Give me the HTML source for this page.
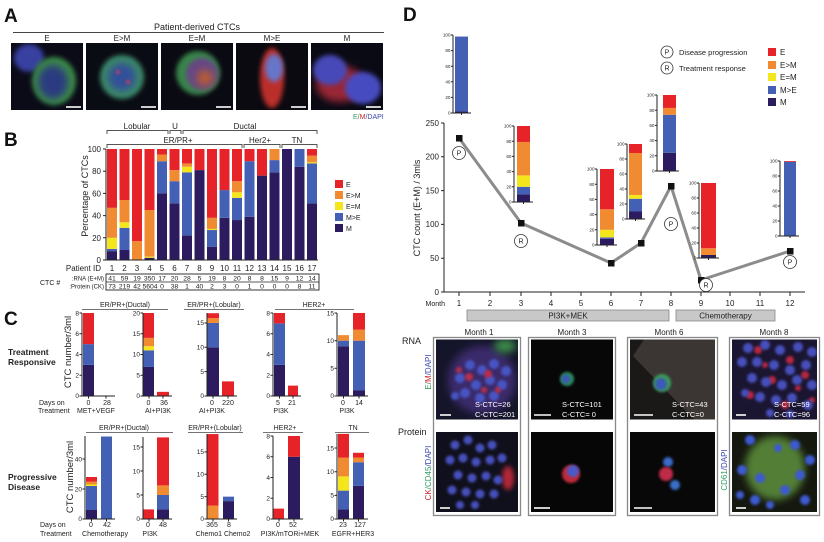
<!DOCTYPE html>
<html><head><meta charset="utf-8"><style>
html,body{margin:0;padding:0;background:#fff;}
svg{display:block;}
text{font-family:"Liberation Sans",Arial,sans-serif;fill:#222;}
.r{fill:#e52329}.o{fill:#f18b31}.y{fill:#f3e61c}.b{fill:#4460b5}.m{fill:#2c1c5f}
.ax{stroke:#222;stroke-width:1;fill:none}
.br{stroke:#555;stroke-width:1;fill:none}
.t8{font-size:8px}.t7{font-size:7px}.t65{font-size:6.5px}.t45{font-size:4.6px}
.sb{stroke:#fff;stroke-width:1.6}
.wt{fill:#fff;font-size:7.5px}
</style></head><body>
<svg width="824" height="542" viewBox="0 0 824 542" xmlns="http://www.w3.org/2000/svg">
<defs>
<filter id="f1" x="-50%" y="-50%" width="200%" height="200%"><feGaussianBlur stdDeviation="1.3"/></filter>
<filter id="f2" x="-50%" y="-50%" width="200%" height="200%"><feGaussianBlur stdDeviation="2.5"/></filter>
<filter id="f4" x="-50%" y="-50%" width="200%" height="200%"><feGaussianBlur stdDeviation="4"/></filter>
<clipPath id="a1"><rect x="11" y="43" width="72" height="67"/></clipPath>
<clipPath id="a2"><rect x="86" y="43" width="72" height="67"/></clipPath>
<clipPath id="a3"><rect x="161" y="43" width="72" height="67"/></clipPath>
<clipPath id="a4"><rect x="236" y="43" width="72" height="67"/></clipPath>
<clipPath id="a5"><rect x="311" y="43" width="72" height="67"/></clipPath>
<clipPath id="d1"><rect x="436" y="339.5" width="82" height="80"/></clipPath>
<clipPath id="d2"><rect x="531" y="339.5" width="82" height="80"/></clipPath>
<clipPath id="d3"><rect x="630" y="339.5" width="85" height="80"/></clipPath>
<clipPath id="d4"><rect x="732" y="339.5" width="85" height="80"/></clipPath>
<clipPath id="e1"><rect x="436" y="432" width="82" height="80"/></clipPath>
<clipPath id="e2"><rect x="531" y="432" width="82" height="80"/></clipPath>
<clipPath id="e3"><rect x="630" y="432" width="85" height="80"/></clipPath>
<clipPath id="e4"><rect x="732" y="432" width="85" height="80"/></clipPath>
</defs>

<!-- ============ PANEL A ============ -->
<text x="4" y="22" style="font-size:19px;font-weight:bold;fill:#111">A</text>
<text x="197" y="30" text-anchor="middle" style="font-size:9px">Patient-derived CTCs</text>
<line x1="13" y1="32.5" x2="384" y2="32.5" stroke="#444" stroke-width="1"/>
<text x="47" y="41" text-anchor="middle" class="t8">E</text>
<text x="122" y="41" text-anchor="middle" class="t8">E&gt;M</text>
<text x="197" y="41" text-anchor="middle" class="t8">E=M</text>
<text x="272" y="41" text-anchor="middle" class="t8">M&gt;E</text>
<text x="347" y="41" text-anchor="middle" class="t8">M</text>

<g clip-path="url(#a1)">
<rect x="11" y="43" width="72" height="67" fill="#0b0b18"/>
<ellipse cx="29" cy="58" rx="15" ry="14" fill="#3840a0" filter="url(#f2)"/>
<ellipse cx="54" cy="81" rx="22" ry="24" fill="#3a8a44" filter="url(#f2)"/>
<ellipse cx="53" cy="82" rx="15" ry="17" fill="#2a3a80" filter="url(#f4)"/>
</g>
<g clip-path="url(#a2)">
<rect x="86" y="43" width="72" height="67" fill="#0a0c14"/>
<circle cx="122" cy="77" r="22" fill="#3a8866" filter="url(#f2)"/>
<circle cx="122" cy="77" r="14" fill="#33509a" filter="url(#f4)"/>
<circle cx="118" cy="72" r="2" fill="#c04060" filter="url(#f1)"/>
<circle cx="128" cy="82" r="2" fill="#c04060" filter="url(#f1)"/>
</g>
<g clip-path="url(#a3)">
<rect x="161" y="43" width="72" height="67" fill="#0a0a12"/>
<circle cx="198" cy="73" r="22" fill="#38844c" filter="url(#f2)"/>
<circle cx="202" cy="74" r="16" fill="#664684" filter="url(#f2)"/>
<circle cx="205" cy="78" r="8" fill="#b85c30" filter="url(#f4)"/>
</g>
<g clip-path="url(#a4)">
<rect x="236" y="43" width="72" height="67" fill="#0a0a10"/>
<ellipse cx="272" cy="78" rx="12" ry="30" fill="#bc2e2a" filter="url(#f2)"/>
<ellipse cx="274" cy="68" rx="9" ry="14" fill="#6676c8" filter="url(#f2)"/>
</g>
<g clip-path="url(#a5)">
<rect x="311" y="43" width="72" height="67" fill="#0a0a14"/>
<ellipse cx="340" cy="84" rx="24" ry="18" fill="#9a2636" filter="url(#f4)"/>
<ellipse cx="330" cy="70" rx="17" ry="15" fill="#4648b8" filter="url(#f2)"/>
<ellipse cx="363" cy="88" rx="18" ry="16" fill="#464cc0" filter="url(#f2)"/>
</g>
<line x1="66" y1="107" x2="81" y2="107" class="sb"/>
<line x1="141" y1="107" x2="156" y2="107" class="sb"/>
<line x1="216" y1="107" x2="231" y2="107" class="sb"/>
<line x1="291" y1="107" x2="306" y2="107" class="sb"/>
<line x1="366" y1="107" x2="381" y2="107" class="sb"/>
<text x="353" y="119" class="t7"><tspan style="fill:#2e9e5e">E</tspan><tspan style="fill:#666">/</tspan><tspan style="fill:#d0262a">M</tspan><tspan style="fill:#3b48b0">/DAPI</tspan></text>

<!-- ============ PANEL B ============ -->
<text x="4" y="146" style="font-size:19px;font-weight:bold;fill:#111">B</text>
<text x="137" y="129" text-anchor="middle" class="t8">Lobular</text>
<text x="175" y="129" text-anchor="middle" class="t8">U</text>
<text x="245" y="129" text-anchor="middle" class="t8">Ductal</text>
<path class="br" d="M107,134V130.5H168V134 M170,134V130.5H181V134 M183,134V130.5H317V134"/>
<text x="178" y="143" text-anchor="middle" class="t8">ER/PR+</text>
<text x="260" y="143" text-anchor="middle" class="t8">Her2+</text>
<text x="297" y="143" text-anchor="middle" class="t8">TN</text>
<path class="br" d="M107,148V144.5H242V148 M244,148V144.5H280V148 M282,148V144.5H317V148"/>

<g transform="translate(0,260) scale(1,-1.11)">
<rect class="m" x="107" y="0" width="10" height="8"/><rect class="b" x="107" y="8" width="10" height="2"/><rect class="y" x="107" y="10" width="10" height="10"/><rect class="o" x="107" y="20" width="10" height="27"/><rect class="r" x="107" y="47" width="10" height="53"/>
<rect class="m" x="119.5" y="0" width="10" height="9"/><rect class="b" x="119.5" y="9" width="10" height="20"/><rect class="y" x="119.5" y="29" width="10" height="5"/><rect class="o" x="119.5" y="34" width="10" height="20"/><rect class="r" x="119.5" y="54" width="10" height="46"/>
<rect class="o" x="132" y="0" width="10" height="17"/><rect class="r" x="132" y="17" width="10" height="83"/>
<rect class="m" x="144.5" y="0" width="10" height="2"/><rect class="y" x="144.5" y="2" width="10" height="1"/><rect class="o" x="144.5" y="3" width="10" height="42"/><rect class="r" x="144.5" y="45" width="10" height="55"/>
<rect class="m" x="157" y="0" width="10" height="60"/><rect class="b" x="157" y="60" width="10" height="29"/><rect class="o" x="157" y="89" width="10" height="6"/><rect class="r" x="157" y="95" width="10" height="5"/>
<rect class="m" x="169.5" y="0" width="10" height="51"/><rect class="b" x="169.5" y="51" width="10" height="20"/><rect class="o" x="169.5" y="71" width="10" height="10"/><rect class="r" x="169.5" y="81" width="10" height="19"/>
<rect class="m" x="182" y="0" width="10" height="22"/><rect class="b" x="182" y="22" width="10" height="57"/><rect class="y" x="182" y="79" width="10" height="5"/><rect class="o" x="182" y="84" width="10" height="3"/><rect class="r" x="182" y="87" width="10" height="13"/>
<rect class="m" x="194.5" y="0" width="10" height="81"/><rect class="r" x="194.5" y="81" width="10" height="19"/>
<rect class="m" x="207" y="0" width="10" height="12"/><rect class="b" x="207" y="12" width="10" height="15"/><rect class="y" x="207" y="27" width="10" height="1"/><rect class="o" x="207" y="28" width="10" height="10"/><rect class="r" x="207" y="38" width="10" height="62"/>
<rect class="m" x="219.5" y="0" width="10" height="38"/><rect class="b" x="219.5" y="38" width="10" height="25"/><rect class="r" x="219.5" y="63" width="10" height="37"/>
<rect class="m" x="232" y="0" width="10" height="36"/><rect class="b" x="232" y="36" width="10" height="20"/><rect class="y" x="232" y="56" width="10" height="5"/><rect class="o" x="232" y="61" width="10" height="10"/><rect class="r" x="232" y="71" width="10" height="29"/>
<rect class="m" x="244.5" y="0" width="10" height="39"/><rect class="b" x="244.5" y="39" width="10" height="50"/><rect class="r" x="244.5" y="89" width="10" height="11"/>
<rect class="m" x="257" y="0" width="10" height="76"/><rect class="r" x="257" y="76" width="10" height="24"/>
<rect class="m" x="269.5" y="0" width="10" height="79"/><rect class="b" x="269.5" y="79" width="10" height="11"/><rect class="o" x="269.5" y="90" width="10" height="10"/>
<rect class="m" x="282" y="0" width="10" height="100"/>
<rect class="m" x="294.5" y="0" width="10" height="84"/><rect class="b" x="294.5" y="84" width="10" height="16"/>
<rect class="m" x="307" y="0" width="10" height="51"/><rect class="b" x="307" y="51" width="10" height="36"/><rect class="y" x="307" y="87" width="10" height="1"/><rect class="o" x="307" y="88" width="10" height="6"/><rect class="r" x="307" y="94" width="10" height="6"/>
</g>
<path class="ax" d="M106,149V260H318 M103,260H106 M103,237.8H106 M103,215.6H106 M103,193.4H106 M103,171.2H106 M103,149H106"/>
<g class="t8" text-anchor="end">
<text x="101" y="263">0</text><text x="101" y="240.8">20</text><text x="101" y="218.6">40</text><text x="101" y="196.4">60</text><text x="101" y="174.2">80</text><text x="101" y="152">100</text>
</g>
<text transform="translate(88,196) rotate(-90)" text-anchor="middle" style="font-size:9px">Percentage of CTCs</text>
<!-- legend B -->
<rect class="r" x="335" y="180" width="8" height="8"/><text x="346" y="187" class="t7">E</text>
<rect class="o" x="335" y="191" width="8" height="8"/><text x="346" y="198" class="t7">E&gt;M</text>
<rect class="y" x="335" y="202" width="8" height="8"/><text x="346" y="209" class="t7">E=M</text>
<rect class="b" x="335" y="213" width="8" height="8"/><text x="346" y="220" class="t7">M&gt;E</text>
<rect class="m" x="335" y="224" width="8" height="8"/><text x="346" y="231" class="t7">M</text>
<!-- table -->
<text x="101" y="271" text-anchor="end" class="t8">Patient ID</text>
<g class="t8" text-anchor="middle">
<text x="112" y="271">1</text><text x="124.5" y="271">2</text><text x="137" y="271">3</text><text x="149.5" y="271">4</text><text x="162" y="271">5</text><text x="174.5" y="271">6</text><text x="187" y="271">7</text><text x="199.5" y="271">8</text><text x="212" y="271">9</text><text x="224.5" y="271">10</text><text x="237" y="271">11</text><text x="249.5" y="271">12</text><text x="262" y="271">13</text><text x="274.5" y="271">14</text><text x="287" y="271">15</text><text x="299.5" y="271">16</text><text x="312" y="271">17</text>
</g>
<rect x="106" y="274" width="213" height="16" fill="none" stroke="#222" stroke-width="0.9"/>
<line x1="106" y1="282" x2="319" y2="282" stroke="#222" stroke-width="0.7"/>
<text x="40" y="285" class="t7">CTC #</text>
<text x="104" y="280.5" text-anchor="end" style="font-size:6px">:RNA (E+M)</text>
<text x="104" y="288.5" text-anchor="end" style="font-size:6px">:Protein (CK)</text>
<g text-anchor="middle" style="font-size:6.8px">
<text x="112" y="280.5">41</text><text x="124.5" y="280.5">59</text><text x="137" y="280.5">19</text><text x="149.5" y="280.5">350</text><text x="162" y="280.5">17</text><text x="174.5" y="280.5">20</text><text x="187" y="280.5">28</text><text x="199.5" y="280.5">5</text><text x="212" y="280.5">19</text><text x="224.5" y="280.5">8</text><text x="237" y="280.5">20</text><text x="249.5" y="280.5">8</text><text x="262" y="280.5">8</text><text x="274.5" y="280.5">15</text><text x="287" y="280.5">9</text><text x="299.5" y="280.5">12</text><text x="312" y="280.5">14</text>
<text x="112" y="288.5">73</text><text x="124.5" y="288.5">219</text><text x="137" y="288.5">42</text><text x="150" y="288.5">5604</text><text x="162" y="288.5">0</text><text x="174.5" y="288.5">38</text><text x="187" y="288.5">1</text><text x="199.5" y="288.5">40</text><text x="212" y="288.5">2</text><text x="224.5" y="288.5">3</text><text x="237" y="288.5">0</text><text x="249.5" y="288.5">1</text><text x="262" y="288.5">0</text><text x="274.5" y="288.5">0</text><text x="287" y="288.5">0</text><text x="299.5" y="288.5">8</text><text x="312" y="288.5">11</text>
</g>

<!-- ============ PANEL C ============ -->
<text x="4" y="325" style="font-size:19px;font-weight:bold;fill:#111">C</text>
<text x="125" y="307" text-anchor="middle" class="t7">ER/PR+(Ductal)</text>
<line x1="82" y1="309.5" x2="168" y2="309.5" stroke="#444" stroke-width="0.8"/>
<text x="214" y="307" text-anchor="middle" class="t7">ER/PR+(Lobular)</text>
<line x1="184" y1="309.5" x2="244" y2="309.5" stroke="#444" stroke-width="0.8"/>
<text x="314" y="307" text-anchor="middle" class="t7">HER2+</text>
<line x1="275" y1="309.5" x2="354" y2="309.5" stroke="#444" stroke-width="0.8"/>

<text x="8" y="355" style="font-size:8.5px;font-weight:bold">Treatment</text>
<text x="8" y="365" style="font-size:8.5px;font-weight:bold">Responsive</text>
<text transform="translate(71,352) rotate(-90)" text-anchor="middle" style="font-size:9.5px">CTC number/3ml</text>
<text x="39" y="405" class="t7">Days on</text>
<text x="38" y="413" class="t7">Treatment</text>

<!-- R1 -->
<g transform="translate(0,396) scale(1,-10.375)"><rect class="m" x="83" y="0" width="11" height="3"/><rect class="b" x="83" y="3" width="11" height="2"/><rect class="r" x="83" y="5" width="11" height="3"/></g>
<path class="ax" d="M82,313V396H115 M79.5,396H82 M79.5,375.25H82 M79.5,354.5H82 M79.5,333.75H82 M79.5,313H82 M88.5,396V398.5 M106,396V398.5"/>
<g class="t65" text-anchor="end"><text x="79" y="398">0</text><text x="79" y="377.5">2</text><text x="79" y="356.7">4</text><text x="79" y="336">6</text><text x="79" y="315.3">8</text></g>
<!-- R2 -->
<g transform="translate(0,396) scale(1,-4.15)"><rect class="m" x="143.5" y="0" width="10.5" height="7"/><rect class="b" x="143.5" y="7" width="10.5" height="4"/><rect class="y" x="143.5" y="11" width="10.5" height="1"/><rect class="o" x="143.5" y="12" width="10.5" height="2"/><rect class="r" x="143.5" y="14" width="10.5" height="6"/><rect class="r" x="157" y="0" width="12" height="1"/></g>
<path class="ax" d="M143,313V396H172 M140.5,396H143 M140.5,375.25H143 M140.5,354.5H143 M140.5,333.75H143 M140.5,313H143 M149,396V398.5 M163,396V398.5"/>
<g class="t65" text-anchor="end"><text x="140" y="398">0</text><text x="140" y="377.5">5</text><text x="140" y="356.7">10</text><text x="140" y="336">15</text><text x="140" y="315.3">20</text></g>
<!-- R3 -->
<g transform="translate(0,396) scale(1,-4.87)"><rect class="m" x="207.5" y="0" width="11.5" height="10"/><rect class="b" x="207.5" y="10" width="11.5" height="5"/><rect class="o" x="207.5" y="15" width="11.5" height="1"/><rect class="r" x="207.5" y="16" width="11.5" height="1"/><rect class="r" x="222" y="0" width="12" height="3"/></g>
<path class="ax" d="M207,313V396H237 M204.5,396H207 M204.5,371.65H207 M204.5,347.3H207 M204.5,322.95H207 M213,396V398.5 M228,396V398.5"/>
<g class="t65" text-anchor="end"><text x="204" y="398">0</text><text x="204" y="374">5</text><text x="204" y="349.5">10</text><text x="204" y="325.2">15</text></g>
<!-- R4 -->
<g transform="translate(0,396) scale(1,-10.375)"><rect class="m" x="274" y="0" width="11" height="3"/><rect class="b" x="274" y="3" width="11" height="4"/><rect class="r" x="274" y="7" width="11" height="1"/><rect class="r" x="288" y="0" width="10" height="1"/></g>
<path class="ax" d="M273,313V396H301 M270.5,396H273 M270.5,375.25H273 M270.5,354.5H273 M270.5,333.75H273 M270.5,313H273 M279.5,396V398.5 M293,396V398.5"/>
<g class="t65" text-anchor="end"><text x="270" y="398">0</text><text x="270" y="377.5">2</text><text x="270" y="356.7">4</text><text x="270" y="336">6</text><text x="270" y="315.3">8</text></g>
<!-- R5 -->
<g transform="translate(0,396) scale(1,-5.533)"><rect class="m" x="338" y="0" width="11" height="9"/><rect class="b" x="338" y="9" width="11" height="1"/><rect class="o" x="338" y="10" width="11" height="1"/><rect class="m" x="353" y="0" width="12" height="1"/><rect class="b" x="353" y="1" width="12" height="9"/><rect class="o" x="353" y="10" width="12" height="2"/><rect class="r" x="353" y="12" width="12" height="3"/></g>
<path class="ax" d="M337,313V396H368 M334.5,396H337 M334.5,368.3H337 M334.5,340.7H337 M334.5,313H337 M343.5,396V398.5 M359,396V398.5"/>
<g class="t65" text-anchor="end"><text x="334" y="398">0</text><text x="334" y="370.5">5</text><text x="334" y="343">10</text><text x="334" y="315.3">15</text></g>

<g class="t7" text-anchor="middle">
<text x="88.5" y="405">0</text><text x="107" y="405">28</text>
<text x="148.5" y="405">0</text><text x="164" y="405">36</text>
<text x="212" y="405">0</text><text x="228" y="405">220</text>
<text x="278" y="405">5</text><text x="292" y="405">21</text>
<text x="343" y="405">0</text><text x="359" y="405">14</text>
<text x="96" y="413">MET+VEGF</text>
<text x="158" y="413">AI+PI3K</text>
<text x="212" y="413">AI+PI3K</text>
<text x="281" y="413">PI3K</text>
<text x="347" y="413">PI3K</text>
</g>

<!-- Progressive -->
<text x="124" y="430" text-anchor="middle" class="t7">ER/PR+(Ductal)</text>
<line x1="86" y1="432.5" x2="173" y2="432.5" stroke="#444" stroke-width="0.8"/>
<text x="215" y="430" text-anchor="middle" class="t7">ER/PR+(Lobular)</text>
<line x1="188" y1="432.5" x2="243" y2="432.5" stroke="#444" stroke-width="0.8"/>
<text x="285" y="430" text-anchor="middle" class="t7">HER2+</text>
<line x1="263" y1="432.5" x2="303" y2="432.5" stroke="#444" stroke-width="0.8"/>
<text x="353" y="430" text-anchor="middle" class="t7">TN</text>
<line x1="335" y1="432.5" x2="369" y2="432.5" stroke="#444" stroke-width="0.8"/>

<text x="8" y="480" style="font-size:8.5px;font-weight:bold">Progressive</text>
<text x="8" y="490" style="font-size:8.5px;font-weight:bold">Disease</text>
<text transform="translate(73,477) rotate(-90)" text-anchor="middle" style="font-size:9.5px">CTC number/3ml</text>
<text x="40" y="527" class="t7">Days on</text>
<text x="40" y="536" class="t7">Treatment</text>

<!-- P1 -->
<g transform="translate(0,519) scale(1,-1.5)"><rect class="m" x="86" y="0" width="11" height="6"/><rect class="b" x="86" y="6" width="11" height="16"/><rect class="y" x="86" y="22" width="11" height="1"/><rect class="o" x="86" y="23" width="11" height="2"/><rect class="r" x="86" y="25" width="11" height="3"/><rect class="b" x="101" y="0" width="11" height="55"/></g>
<path class="ax" d="M85,436V519H115 M82.5,519H85 M82.5,489H85 M82.5,459H85 M91.5,519V521.5 M106.5,519V521.5"/>
<g class="t65" text-anchor="end"><text x="82" y="521">0</text><text x="82" y="491.3">20</text><text x="82" y="461.3">40</text></g>
<!-- P2 -->
<g transform="translate(0,519) scale(1,-4.8)"><rect class="r" x="143.5" y="0" width="10.5" height="2"/><rect class="m" x="157" y="0" width="12" height="2"/><rect class="b" x="157" y="2" width="12" height="3"/><rect class="o" x="157" y="5" width="12" height="2"/><rect class="r" x="157" y="7" width="12" height="10"/></g>
<path class="ax" d="M143,437V519H172 M140.5,519H143 M140.5,495H143 M140.5,471H143 M140.5,447H143 M149,519V521.5 M163,519V521.5"/>
<g class="t65" text-anchor="end"><text x="140" y="521">0</text><text x="140" y="497.3">5</text><text x="140" y="473.3">10</text><text x="140" y="449.3">15</text></g>
<!-- P3 -->
<g transform="translate(0,519) scale(1,-4.47)"><rect class="o" x="207.5" y="0" width="11" height="3"/><rect class="r" x="207.5" y="3" width="11" height="16"/><rect class="m" x="223" y="0" width="11" height="4"/><rect class="b" x="223" y="4" width="11" height="1"/></g>
<path class="ax" d="M207,434V519H237 M204.5,519H207 M204.5,496.6H207 M204.5,474.3H207 M204.5,451.9H207 M213,519V521.5 M228.5,519V521.5"/>
<g class="t65" text-anchor="end"><text x="204" y="521">0</text><text x="204" y="498.9">5</text><text x="204" y="476.6">10</text><text x="204" y="454.2">15</text></g>
<!-- P4 -->
<g transform="translate(0,519) scale(1,-10.375)"><rect class="r" x="273.5" y="0" width="10.5" height="1"/><rect class="m" x="288" y="0" width="12" height="6"/><rect class="r" x="288" y="6" width="12" height="2"/></g>
<path class="ax" d="M273,436V519H303 M270.5,519H273 M270.5,498.25H273 M270.5,477.5H273 M270.5,456.75H273 M270.5,436H273 M279,519V521.5 M294,519V521.5"/>
<g class="t65" text-anchor="end"><text x="270" y="521">0</text><text x="270" y="500.5">2</text><text x="270" y="479.8">4</text><text x="270" y="459">6</text><text x="270" y="438.3">8</text></g>
<!-- P5 -->
<g transform="translate(0,519) scale(1,-4.73)"><rect class="m" x="338" y="0" width="11" height="2"/><rect class="b" x="338" y="2" width="11" height="4"/><rect class="y" x="338" y="6" width="11" height="3"/><rect class="o" x="338" y="9" width="11" height="4"/><rect class="r" x="338" y="13" width="11" height="5"/><rect class="m" x="353" y="0" width="11" height="7"/><rect class="b" x="353" y="7" width="11" height="5"/><rect class="o" x="353" y="12" width="11" height="1"/><rect class="r" x="353" y="13" width="11" height="1"/></g>
<path class="ax" d="M337,434V519H368 M334.5,519H337 M334.5,495.4H337 M334.5,471.7H337 M334.5,448H337 M343.5,519V521.5 M358.5,519V521.5"/>
<g class="t65" text-anchor="end"><text x="334" y="521">0</text><text x="334" y="497.7">5</text><text x="334" y="474">10</text><text x="334" y="450.3">15</text></g>

<g class="t7" text-anchor="middle">
<text x="91" y="527">0</text><text x="107" y="527">42</text>
<text x="148" y="527">0</text><text x="163" y="527">48</text>
<text x="212" y="527">365</text><text x="229" y="527">8</text>
<text x="278" y="527">0</text><text x="293" y="527">52</text>
<text x="343" y="527">23</text><text x="360" y="527">127</text>
<text x="105" y="536">Chemotherapy</text>
<text x="150" y="536">PI3K</text>
<text x="223" y="536">Chemo1 Chemo2</text>
<text x="290" y="536">PI3K/mTORi+MEK</text>
<text x="353" y="536">EGFR+HER3</text>
</g>

<!-- ============ PANEL D ============ -->
<text x="403" y="21" style="font-size:19px;font-weight:bold;fill:#111">D</text>

<circle cx="667" cy="52" r="6" fill="#fff" stroke="#333" stroke-width="0.8"/><text x="667" y="54.7" text-anchor="middle" class="t7">P</text>
<text x="679" y="55" style="font-size:7.5px">Disease progression</text>
<circle cx="667" cy="68" r="6" fill="#fff" stroke="#333" stroke-width="0.8"/><text x="667" y="70.7" text-anchor="middle" class="t7">R</text>
<text x="679" y="71" style="font-size:7.5px">Treatment response</text>
<rect class="r" x="768" y="48" width="8" height="8"/><text x="780" y="55" class="t8">E</text>
<rect class="o" x="768" y="61" width="8" height="8"/><text x="780" y="68" class="t8">E&gt;M</text>
<rect class="y" x="768" y="73" width="8" height="8"/><text x="780" y="80" class="t8">E=M</text>
<rect class="b" x="768" y="86" width="8" height="8"/><text x="780" y="93" class="t8">M&gt;E</text>
<rect class="m" x="768" y="98" width="8" height="8"/><text x="780" y="105" class="t8">M</text>

<path class="ax" d="M444,123V292H805 M441,292H444 M441,258.2H444 M441,224.4H444 M441,190.6H444 M441,156.8H444 M441,123H444"/>
<g class="t8" text-anchor="end">
<text x="439" y="295">0</text><text x="439" y="261">50</text><text x="439" y="227">100</text><text x="439" y="193.5">150</text><text x="439" y="159.5">200</text><text x="439" y="126">250</text>
</g>
<text transform="translate(420,208) rotate(-90)" text-anchor="middle" style="font-size:9px">CTC count (E+M) / 3mls</text>
<path class="ax" d="M459,292V296 M490,292V296 M521,292V296 M551,292V296 M581,292V296 M611,292V296 M641,292V296 M671,292V296 M701,292V296 M730,292V296 M760,292V296 M790,292V296"/>
<text x="445" y="306" text-anchor="end" class="t7">Month</text>
<g class="t8" text-anchor="middle">
<text x="459" y="306">1</text><text x="490" y="306">2</text><text x="521" y="306">3</text><text x="551" y="306">4</text><text x="581" y="306">5</text><text x="611" y="306">6</text><text x="641" y="306">7</text><text x="671" y="306">8</text><text x="701" y="306">9</text><text x="730" y="306">10</text><text x="760" y="306">11</text><text x="790" y="306">12</text>
</g>
<rect x="467" y="310" width="202" height="11" fill="#c8c8c8" stroke="#888" stroke-width="0.8"/>
<text x="568" y="318.5" text-anchor="middle" class="t8">PI3K+MEK</text>
<rect x="676" y="310" width="99" height="11" fill="#c8c8c8" stroke="#888" stroke-width="0.8"/>
<text x="725.5" y="318.5" text-anchor="middle" class="t8">Chemotherapy</text>

<polyline points="459,138 521,223 611,263 641,243 671,186 701,280 790,251" fill="none" stroke="#8c8c8c" stroke-width="3" stroke-linejoin="round"/>
<g fill="#111">
<rect x="456" y="135" width="6.5" height="6.5"/><rect x="518" y="220" width="6.5" height="6.5"/><rect x="608" y="260" width="6.5" height="6.5"/><rect x="638" y="240" width="6.5" height="6.5"/><rect x="668" y="183" width="6.5" height="6.5"/><rect x="698" y="277" width="6.5" height="6.5"/><rect x="787" y="248" width="6.5" height="6.5"/>
</g>
<g>
<circle cx="459" cy="153" r="6.5" fill="#fff" stroke="#333" stroke-width="0.8"/><text x="459" y="155.7" text-anchor="middle" class="t7">P</text>
<circle cx="521" cy="241" r="6.5" fill="#fff" stroke="#333" stroke-width="0.8"/><text x="521" y="243.7" text-anchor="middle" class="t7">R</text>
<circle cx="671" cy="224" r="6.5" fill="#fff" stroke="#333" stroke-width="0.8"/><text x="671" y="226.7" text-anchor="middle" class="t7">P</text>
<circle cx="706" cy="285" r="6.5" fill="#fff" stroke="#333" stroke-width="0.8"/><text x="706" y="287.7" text-anchor="middle" class="t7">R</text>
<circle cx="790" cy="262" r="6.5" fill="#fff" stroke="#333" stroke-width="0.8"/><text x="790" y="264.7" text-anchor="middle" class="t7">P</text>
</g>

<!-- insets -->
<g transform="translate(0,113) scale(1,-0.78)"><rect class="m" x="455" y="0" width="13" height="2"/><rect class="b" x="455" y="2" width="13" height="96"/></g>
<path class="ax" d="M453,35V113H471 M451,113H453 M451,97.4H453 M451,81.8H453 M451,66.2H453 M451,50.6H453 M451,35H453 M461.5,113V115"/>
<g class="t45" text-anchor="end"><text x="450.5" y="114.6">0</text><text x="450.5" y="99">20</text><text x="450.5" y="83.4">40</text><text x="450.5" y="67.8">60</text><text x="450.5" y="52.2">80</text><text x="450.5" y="36.6">100</text></g>
<g transform="translate(0,202) scale(1,-0.76)"><rect class="m" x="517" y="0" width="13" height="10"/><rect class="b" x="517" y="10" width="13" height="10"/><rect class="y" x="517" y="20" width="13" height="15"/><rect class="o" x="517" y="35" width="13" height="44"/><rect class="r" x="517" y="79" width="13" height="21"/></g>
<path class="ax" d="M514,126V202H533 M512,202H514 M512,186.8H514 M512,171.6H514 M512,156.4H514 M512,141.2H514 M512,126H514 M523.5,202V204"/>
<g class="t45" text-anchor="end"><text x="511.5" y="203.6">0</text><text x="511.5" y="188.4">20</text><text x="511.5" y="173.2">40</text><text x="511.5" y="158">60</text><text x="511.5" y="142.8">80</text><text x="511.5" y="127.6">100</text></g>
<g transform="translate(0,245) scale(1,-0.76)"><rect class="m" x="600" y="0" width="14" height="8"/><rect class="b" x="600" y="8" width="14" height="2"/><rect class="y" x="600" y="10" width="14" height="10"/><rect class="o" x="600" y="20" width="14" height="27"/><rect class="r" x="600" y="47" width="14" height="53"/></g>
<path class="ax" d="M597,169V245H617 M595,245H597 M595,229.8H597 M595,214.6H597 M595,199.4H597 M595,184.2H597 M595,169H597 M607,245V247"/>
<g class="t45" text-anchor="end"><text x="594.5" y="246.6">0</text><text x="594.5" y="231.4">20</text><text x="594.5" y="216.2">40</text><text x="594.5" y="201">60</text><text x="594.5" y="185.8">80</text><text x="594.5" y="170.6">100</text></g>
<g transform="translate(0,219) scale(1,-0.75)"><rect class="m" x="629" y="0" width="13" height="10"/><rect class="b" x="629" y="10" width="13" height="17"/><rect class="y" x="629" y="27" width="13" height="5"/><rect class="o" x="629" y="32" width="13" height="56"/><rect class="r" x="629" y="88" width="13" height="12"/></g>
<path class="ax" d="M627,144V219H645 M625,219H627 M625,204H627 M625,189H627 M625,174H627 M625,159H627 M625,144H627 M635.5,219V221"/>
<g class="t45" text-anchor="end"><text x="624.5" y="220.6">0</text><text x="624.5" y="205.6">20</text><text x="624.5" y="190.6">40</text><text x="624.5" y="175.6">60</text><text x="624.5" y="160.6">80</text><text x="624.5" y="145.6">100</text></g>
<g transform="translate(0,171) scale(1,-0.76)"><rect class="m" x="663" y="0" width="13" height="24"/><rect class="b" x="663" y="24" width="13" height="50"/><rect class="o" x="663" y="74" width="13" height="9"/><rect class="r" x="663" y="83" width="13" height="17"/></g>
<path class="ax" d="M657,95V171H679 M655,171H657 M655,155.8H657 M655,140.6H657 M655,125.4H657 M655,110.2H657 M655,95H657 M669.5,171V173"/>
<g class="t45" text-anchor="end"><text x="654.5" y="172.6">0</text><text x="654.5" y="157.4">20</text><text x="654.5" y="142.2">40</text><text x="654.5" y="127">60</text><text x="654.5" y="111.8">80</text><text x="654.5" y="96.6">100</text></g>
<g transform="translate(0,258) scale(1,-0.75)"><rect class="m" x="701" y="0" width="15" height="4"/><rect class="o" x="701" y="4" width="15" height="9"/><rect class="r" x="701" y="13" width="15" height="87"/></g>
<path class="ax" d="M699,183V258H719 M697,258H699 M697,243H699 M697,228H699 M697,213H699 M697,198H699 M697,183H699 M708.5,258V260"/>
<g class="t45" text-anchor="end"><text x="696.5" y="259.6">0</text><text x="696.5" y="244.6">20</text><text x="696.5" y="229.6">40</text><text x="696.5" y="214.6">60</text><text x="696.5" y="199.6">80</text><text x="696.5" y="184.6">100</text></g>
<g transform="translate(0,236) scale(1,-0.75)"><rect class="b" x="784" y="0" width="12" height="99"/><rect class="r" x="784" y="99" width="12" height="1"/></g>
<path class="ax" d="M780,161V236H799 M778,236H780 M778,221H780 M778,206H780 M778,191H780 M778,176H780 M778,161H780 M790,236V238"/>
<g class="t45" text-anchor="end"><text x="777.5" y="237.6">0</text><text x="777.5" y="222.6">20</text><text x="777.5" y="207.6">40</text><text x="777.5" y="192.6">60</text><text x="777.5" y="177.6">80</text><text x="777.5" y="162.6">100</text></g>

<!-- bottom images D -->
<g class="t8" text-anchor="middle">
<text x="479" y="335">Month 1</text><text x="572" y="335">Month 3</text><text x="669" y="335">Month 6</text><text x="774" y="335">Month 8</text>
</g>
<text x="402" y="344" style="font-size:9px">RNA</text>
<text x="398" y="435" style="font-size:9px">Protein</text>
<rect x="433.5" y="337.5" width="87" height="178" fill="#fff" stroke="#888" stroke-width="1.3"/>
<rect x="528.5" y="337.5" width="87" height="178" fill="#fff" stroke="#888" stroke-width="1.3"/>
<rect x="627.5" y="337.5" width="90" height="178" fill="#fff" stroke="#888" stroke-width="1.3"/>
<rect x="729.5" y="337.5" width="90" height="178" fill="#fff" stroke="#888" stroke-width="1.3"/>

<g clip-path="url(#d1)">
<rect x="436" y="339.5" width="82" height="80" fill="#15152a"/>
<ellipse cx="482" cy="380" rx="34" ry="34" fill="#3a2a6a" filter="url(#f4)"/>
<ellipse cx="505" cy="346" rx="11" ry="7" fill="#3a8a4a" filter="url(#f4)"/>
<g fill="#4654c4" filter="url(#f1)">
<circle cx="470" cy="365" r="5"/><circle cx="482" cy="370" r="5"/><circle cx="494" cy="364" r="5"/><circle cx="506" cy="371" r="5"/><circle cx="460" cy="378" r="5"/><circle cx="476" cy="385" r="5"/><circle cx="490" cy="380" r="5"/><circle cx="502" cy="385" r="5"/><circle cx="465" cy="393" r="5"/><circle cx="480" cy="398" r="5"/><circle cx="455" cy="396" r="4"/><circle cx="494" cy="396" r="5"/>
</g>
<g fill="#b82e4c" filter="url(#f1)">
<circle cx="488" cy="374" r="4"/><circle cx="469" cy="377" r="4"/><circle cx="498" cy="390" r="3"/><circle cx="459" cy="370" r="3"/><circle cx="484" cy="390" r="3"/>
</g>
</g>
<g clip-path="url(#d2)">
<rect x="531" y="339.5" width="82" height="80" fill="#070707"/>
<circle cx="567" cy="379" r="7" fill="#2c8a5a" filter="url(#f1)"/>
<circle cx="566" cy="379" r="4.5" fill="#3a5ab0" filter="url(#f1)"/>
</g>
<g clip-path="url(#d3)">
<rect x="630" y="339.5" width="85" height="80" fill="#1b1918"/>
<polygon points="644,339.5 715,339.5 715,419.5 694,419.5 633,356" fill="#3b3634"/>
<circle cx="662" cy="383" r="9" fill="#3a9a5a" filter="url(#f1)"/>
<circle cx="661" cy="384" r="6" fill="#3a5ab8" filter="url(#f1)"/>
</g>
<g clip-path="url(#d4)">
<rect x="732" y="339.5" width="85" height="80" fill="#1a1530"/>
<g fill="#b82640" filter="url(#f1)">
<circle cx="758" cy="350" r="4"/><circle cx="790" cy="360" r="4"/><circle cx="772" cy="380" r="4"/><circle cx="805" cy="375" r="4"/><circle cx="750" cy="395" r="4"/><circle cx="785" cy="405" r="4"/><circle cx="812" cy="400" r="3"/><circle cx="765" cy="365" r="3"/><circle cx="798" cy="388" r="3"/>
</g>
<g fill="#4650bc" filter="url(#f1)">
<circle cx="748" cy="348" r="5"/><circle cx="765" cy="345" r="5"/><circle cx="780" cy="350" r="5"/><circle cx="798" cy="347" r="5"/><circle cx="812" cy="352" r="5"/>
<circle cx="742" cy="362" r="5"/><circle cx="757" cy="362" r="5"/><circle cx="774" cy="365" r="5"/><circle cx="790" cy="370" r="5"/><circle cx="806" cy="365" r="5"/>
<circle cx="752" cy="378" r="5"/><circle cx="766" cy="382" r="5"/><circle cx="782" cy="385" r="5"/><circle cx="797" cy="380" r="5"/><circle cx="812" cy="385" r="5"/>
<circle cx="745" cy="393" r="4"/><circle cx="760" cy="397" r="5"/><circle cx="776" cy="400" r="5"/><circle cx="792" cy="398" r="5"/><circle cx="808" cy="405" r="5"/>
<circle cx="770" cy="413" r="4"/><circle cx="790" cy="414" r="4"/>
</g>
</g>
<g clip-path="url(#e1)">
<rect x="436" y="432" width="82" height="80" fill="#10101c"/>
<ellipse cx="508" cy="478" rx="6" ry="12" fill="#b02838" filter="url(#f2)"/>
<g fill="#4650bc" filter="url(#f1)">
<circle cx="455" cy="445" r="4.5"/><circle cx="468" cy="440" r="4.5"/><circle cx="480" cy="448" r="4.5"/><circle cx="492" cy="445" r="4.5"/><circle cx="450" cy="460" r="4.5"/><circle cx="463" cy="458" r="4.5"/><circle cx="476" cy="462" r="4.5"/><circle cx="490" cy="460" r="4.5"/><circle cx="502" cy="458" r="4.5"/><circle cx="458" cy="475" r="4.5"/><circle cx="472" cy="478" r="4.5"/><circle cx="486" cy="476" r="4.5"/><circle cx="498" cy="480" r="4.5"/><circle cx="452" cy="490" r="4.5"/><circle cx="466" cy="492" r="4.5"/><circle cx="480" cy="494" r="4.5"/><circle cx="494" cy="494" r="4.5"/><circle cx="460" cy="505" r="4"/><circle cx="475" cy="505" r="4"/>
</g>
</g>
<g clip-path="url(#e2)">
<rect x="531" y="432" width="82" height="80" fill="#060606"/>
<circle cx="571" cy="474" r="9" fill="#c02a3a" filter="url(#f1)"/>
<circle cx="573" cy="471" r="6" fill="#4a5ac8" filter="url(#f1)"/>
</g>
<g clip-path="url(#e3)">
<rect x="630" y="432" width="85" height="80" fill="#080808"/>
<circle cx="668" cy="462" r="5" fill="#3a6ac8" filter="url(#f1)"/>
<circle cx="666" cy="474" r="7" fill="#c02a4a" filter="url(#f1)"/>
<circle cx="675" cy="485" r="5" fill="#3a70c8" filter="url(#f1)"/>
</g>
<g clip-path="url(#e4)">
<rect x="732" y="432" width="85" height="80" fill="#15180f"/>
<ellipse cx="775" cy="468" rx="30" ry="32" fill="#5a8a3a" filter="url(#f4)" opacity="0.9"/>
<g fill="#3d5ad0" filter="url(#f1)">
<circle cx="750" cy="440" r="5"/><circle cx="795" cy="445" r="5"/><circle cx="810" cy="460" r="5"/><circle cx="742" cy="470" r="5"/><circle cx="760" cy="478" r="5"/><circle cx="800" cy="475" r="5"/><circle cx="785" cy="490" r="5"/><circle cx="755" cy="500" r="5"/><circle cx="805" cy="500" r="5"/><circle cx="770" cy="505" r="4"/><circle cx="740" cy="495" r="4"/><circle cx="778" cy="448" r="4"/>
</g>
</g>

<line x1="440" y1="415" x2="451" y2="415" class="sb"/>
<line x1="534" y1="415" x2="551" y2="415" class="sb"/>
<line x1="634" y1="415" x2="653" y2="415" class="sb"/>
<line x1="736" y1="415" x2="746" y2="415" class="sb"/>
<line x1="440" y1="508" x2="450" y2="508" class="sb"/>
<line x1="534" y1="508" x2="550" y2="508" class="sb"/>
<line x1="634" y1="508" x2="652" y2="508" class="sb"/>
<line x1="736" y1="508" x2="746" y2="508" class="sb"/>

<text x="475" y="407" class="wt">S-CTC=26</text><text x="475" y="417" class="wt">C-CTC=201</text>
<text x="562" y="407" class="wt">S-CTC=101</text><text x="562" y="417" class="wt">C-CTC= 0</text>
<text x="672" y="407" class="wt">S-CTC=43</text><text x="672" y="417" class="wt">C-CTC=0</text>
<text x="774" y="407" class="wt">S-CTC=59</text><text x="774" y="417" class="wt">C-CTC=96</text>

<text transform="translate(431,372) rotate(-90)" text-anchor="middle" class="t8"><tspan style="fill:#2e9e5e">E</tspan><tspan style="fill:#666">/</tspan><tspan style="fill:#d0262a">M</tspan><tspan style="fill:#3b48b0">/DAPI</tspan></text>
<text transform="translate(431,473) rotate(-90)" text-anchor="middle" class="t8"><tspan style="fill:#d0262a">CK</tspan><tspan style="fill:#2e9e5e">/CD45</tspan><tspan style="fill:#3b48b0">/DAPI</tspan></text>
<text transform="translate(727,470) rotate(-90)" text-anchor="middle" class="t8"><tspan style="fill:#2e9e5e">CD61</tspan><tspan style="fill:#3b48b0">/DAPI</tspan></text>
</svg>
</body></html>
